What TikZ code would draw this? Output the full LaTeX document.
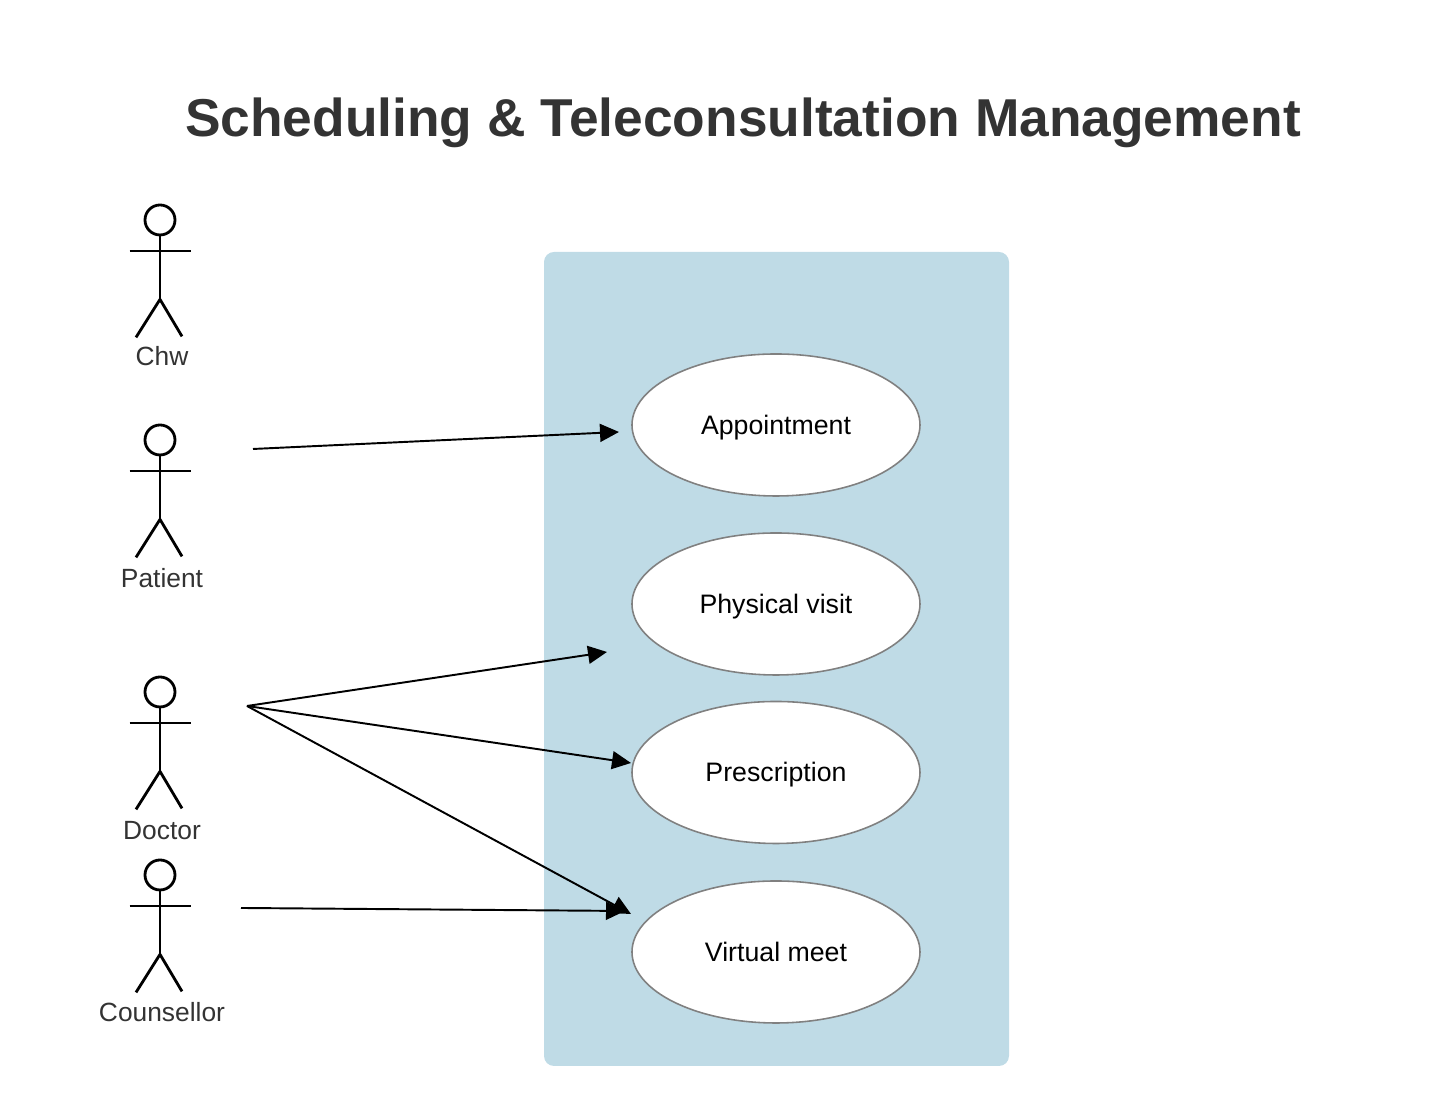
\documentclass[tikz,border=0pt]{standalone}
\usepackage{fontspec}
\setmainfont{Liberation Sans}
\usetikzlibrary{arrows.meta, positioning, shapes.geometric, calc}
\definecolor{panelblue}{HTML}{BFDBE6}
\definecolor{darktext}{HTML}{333333}
\definecolor{ovalline}{HTML}{808080}

\tikzset{
    usecase/.style={draw=ovalline, fill=white, ellipse, line width=0.45pt, minimum width=2.88cm, minimum height=1.42cm, inner sep=0pt, text height=5.4pt, text depth=0pt, font=\fontsize{7.6}{9}\selectfont, text=black},
    actorhead/.style={draw, circle, line width=0.8pt, minimum size=0.3cm, inner sep=0pt},
    actorlimb/.style={line width=0.8pt},
    actorlabel/.style={font=\fontsize{7.5}{9}\selectfont, text=darktext},
    link/.style={-{Triangle[length=5.4pt, width=5.1pt]}, line width=0.55pt}
}

% head, body and label of one actor
\newcommand{\stickactor}[5]{
    \node[actorhead] (#1) at (#2,#3) {};
    \draw[actorlimb] (#1.south) -- ++(0,-0.63) coordinate (#1hip);
    \draw[actorlimb] ($(#1)+(-0.305,-0.31)$) -- ++(0.615,0);
    \draw[actorlimb] (#1hip) -- ++(-0.24,-0.38);
    \draw[actorlimb] (#1hip) -- ++(0.22,-0.37);
    \node[actorlabel] (#1label) at ($(#1)+(0.02,#5)$) {#4};
}

\begin{document}
\begin{tikzpicture}
    \useasboundingbox (0,0) rectangle (14.39,11.06);

    \node[fill=panelblue, rounded corners=0.1cm, minimum width=4.65cm, minimum height=8.14cm, inner sep=0pt] (panel) at (7.765,4.47) {};

    \node[font=\bfseries\fontsize{15.17}{18}\selectfont, text=darktext] (title) at (7.43,9.83) {Scheduling \& Teleconsultation Management};

    \node[usecase] (appointment) at (7.76,6.81) {Appointment};
    \node[usecase] (physical) at (7.76,5.02) {Physical visit};
    \node[usecase] (prescription) at (7.76,3.335) {Prescription};
    \node[usecase] (virtual) at (7.76,1.54) {Virtual meet};

    \stickactor{chw}{1.6}{8.86}{Chw}{-1.365}
    \stickactor{patient}{1.6}{6.66}{Patient}{-1.385}
    \stickactor{doctor}{1.6}{4.14}{Doctor}{-1.385}
    \stickactor{counsellor}{1.6}{2.31}{Counsellor}{-1.375}

    % free ends of the arrows
    \coordinate (patientout) at (2.53,6.57);
    \coordinate (appointmentin) at (6.19,6.74);
    \coordinate (doctorout) at (2.47,4.00);
    \coordinate (physicalin) at (6.07,4.54);
    \coordinate (prescriptionin) at (6.31,3.43);
    \coordinate (virtualin) at (6.31,1.92);
    \coordinate (counsellorout) at (2.41,1.98);
    \coordinate (counsellorin) at (6.25,1.95);

    \draw[link] (patientout) -- (appointmentin);
    \draw[link] (doctorout) -- (physicalin);
    \draw[link] (doctorout) -- (prescriptionin);
    \draw[link] (doctorout) -- (virtualin);
    \draw[link] (counsellorout) -- (counsellorin);
\end{tikzpicture}
\end{document}
